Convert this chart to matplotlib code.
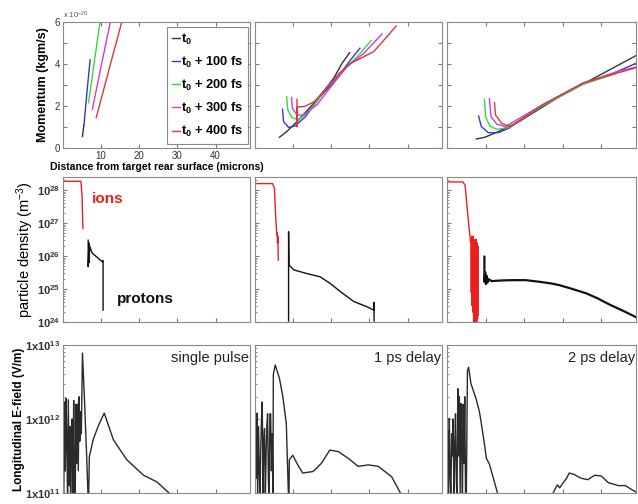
import numpy as np
import matplotlib
matplotlib.use('Agg')
import matplotlib.pyplot as plt
from matplotlib.ticker import LogLocator, NullFormatter

plt.rcParams['font.family'] = ['Liberation Sans', 'DejaVu Sans']
plt.rcParams['mathtext.fontset'] = 'custom'
plt.rcParams['mathtext.rm'] = 'Liberation Sans'
plt.rcParams['mathtext.bf'] = 'Liberation Sans:bold'
plt.rcParams['mathtext.it'] = 'Liberation Sans:italic'

W, H = 638, 504

# ---- top row : momentum (units of 1e-20 kg m/s) vs distance (microns)
labels = ['t0', 't0 + 100 fs', 't0 + 200 fs', 't0 + 300 fs', 't0 + 400 fs']
colors = ['#333333', '#3838c8', '#38d838', '#d838d8', '#d83838']

mom_a_x = [[5.1, 5.3, 5.5],
           [5.5, 6.3, 7.1],
           [6.7, 8.2, 9.7],
           [7.7, 10.0, 12.4],
           [8.7, 10.4, 12.0, 15.4]]
mom_a_y = [[0.55, 0.85, 1.1],
           [1.1, 2.7, 4.2],
           [2.16, 4.1, 6.0],
           [1.85, 3.9, 6.0],
           [1.45, 2.6, 3.7, 6.0]]

mom_b_x = [[6.4, 8.3, 11.0, 16.2, 20.6, 22.8, 24.8],
           [7.2, 7.5, 8.8, 10.5, 13.2, 17.1, 21.5, 25.0, 27.5],
           [8.3, 8.6, 9.6, 11.4, 14.5, 18.9, 23.2, 26.8, 30.4],
           [9.6, 9.8, 11.0, 12.7, 16.2, 20.6, 24.1, 28.5, 33.3],
           [11.0, 11.0, 11.1, 13.0, 15.5, 18.5, 22.0, 25.0, 28.0, 31.1, 33.8, 37.0]]
mom_b_y = [[0.51, 0.78, 1.25, 2.29, 3.32, 4.03, 4.54],
           [1.84, 1.25, 0.98, 1.05, 1.49, 2.44, 3.32, 4.19, 4.75],
           [2.44, 1.81, 1.46, 1.33, 1.81, 2.92, 3.71, 4.35, 5.11],
           [2.41, 1.89, 1.57, 1.57, 2.05, 3.08, 3.87, 4.51, 5.43],
           [2.32, 1.0, 1.95, 1.98, 2.2, 2.8, 3.55, 4.03, 4.3, 4.59, 5.14, 5.81]]

mom_c_x = [[7.6, 9.8, 13.3, 18.6, 29.1, 39.7, 49.3],
           [8.2, 8.9, 10.7, 13.3, 16.0, 24.7, 35.3, 43.2, 49.3],
           [9.7, 10.0, 11.1, 12.9, 16.0, 24.7, 35.3, 44.0],
           [11.0, 11.4, 12.9, 15.1, 24.7, 35.3, 44.0, 49.3],
           [12.3, 12.6, 14.2, 16.4, 24.7, 35.3, 44.0, 49.3]]
mom_c_y = [[0.43, 0.51, 0.78, 1.25, 2.44, 3.48, 4.43],
           [1.52, 1.02, 0.73, 0.73, 0.94, 2.0, 3.08, 3.56, 4.06],
           [2.32, 1.49, 1.05, 0.89, 0.98, 2.0, 3.03, 3.56],
           [2.35, 1.49, 1.14, 1.02, 2.05, 3.08, 3.63, 3.87],
           [2.16, 1.57, 1.17, 1.02, 2.05, 3.10, 3.56, 3.84]]

# ---- middle row : particle density, log10(m^-3)
ion_a_x = [0.0, 0.05, 4.7, 5.0, 5.2]
ion_a_lg = [28.4, 28.27, 28.27, 27.8, 26.84]
pro_a_x = [6.6, 6.6, 6.8, 6.8, 7.0, 7.5, 8.0, 8.8, 9.5, 10.4, 10.5, 10.5]
pro_a_lg = [26.48, 25.68, 26.4, 25.8, 26.3, 26.13, 26.05, 25.98, 25.9, 25.83, 25.86, 24.36]

ion_b_x = [0.0, 0.0, 0.1, 4.6, 5.1, 5.4, 5.7, 5.8, 5.9, 6.0, 6.1]
ion_b_lg = [27.55, 28.4, 28.2, 28.2, 28.05, 27.24, 26.64, 26.7, 26.4, 26.6, 25.88]
pro_b_x = [8.8, 8.8, 8.9, 10.2, 13.6, 17.1, 19.7, 22.4, 25.9, 29.4, 31.1, 31.2, 31.2]
pro_b_lg = [24.03, 26.74, 25.73, 25.58, 25.47, 25.37, 25.17, 24.92, 24.62, 24.46, 24.36, 24.6, 24.03]

ion_c_x = [0.0, 0.0, 0.1, 4.1, 4.7, 5.4, 6.1, 6.2, 6.3, 6.4, 6.5, 6.6, 6.7, 6.8, 6.9,
           7.0, 7.1, 7.2, 7.3, 7.4, 7.5, 7.6, 7.7, 7.8, 7.9, 8.0, 8.1]
ion_c_lg = [27.8, 28.4, 28.25, 28.25, 28.15, 27.24, 26.43, 26.5, 24.9, 26.6, 24.5, 26.5, 24.3,
            26.6, 23.9, 26.5, 23.9, 26.5, 23.9, 26.4, 23.9, 26.5, 23.9, 26.4, 24.1, 26.3, 24.2]
pro_c_x = [9.7, 9.7, 9.9, 10.1, 10.3, 10.5, 10.8, 11.6, 14.0, 17.0, 20.4, 24.0, 27.0, 29.1,
           32.0, 36.1, 39.0, 42.3, 46.0, 50.0]
pro_c_lg = [25.98, 25.22, 25.5, 25.15, 25.4, 25.2, 25.3, 25.24, 25.26, 25.27, 25.27, 25.22,
            25.17, 25.12, 25.02, 24.87, 24.72, 24.52, 24.32, 24.09]

# ---- bottom row : longitudinal E-field, log10(V/m)
ef_a_x = [0.0, 0.2, 0.4, 0.6, 0.8, 1.0, 1.2, 1.4, 1.6, 1.8, 2.0, 2.2, 2.4, 2.6, 2.8, 3.0,
          3.2, 3.4, 3.6, 3.8, 4.0, 4.2, 4.4, 4.6, 4.8, 5.1, 5.6, 6.2, 6.6, 6.7, 6.9, 7.9,
          9.2, 10.8, 13.2, 16.7, 21.1, 24.6, 28.2]
ef_a_lg = [12.2, 10.9, 12.23, 11.3, 12.28, 11.7, 10.9, 12.26, 11.1, 11.9, 10.9, 11.5, 12.0,
           10.9, 12.25, 11.2, 10.9, 12.2, 11.4, 12.2, 11.3, 12.3, 11.7, 12.1, 11.8, 12.89,
           12.3, 11.5, 10.9, 10.9, 11.49, 11.72, 11.9, 12.08, 11.72, 11.45, 11.24, 11.15, 10.98]

ef_b_x = [0.0, 0.15, 0.3, 0.5, 0.7, 0.9, 1.1, 1.3, 1.5, 1.7, 1.9, 2.1, 2.3, 2.5, 2.7, 2.9,
          3.1, 3.3, 3.5, 3.7, 3.9, 4.1, 4.3, 4.5, 4.7, 4.8, 5.3, 6.4, 7.3, 8.2, 8.8, 8.9,
          9.0, 9.9, 11.2, 12.5, 15.2, 17.4, 19.6, 21.8, 24.4, 27.0, 29.7, 32.3, 35.8, 38.3]
ef_b_lg = [11.9, 12.05, 11.2, 12.08, 10.9, 11.9, 11.4, 10.9, 11.6, 12.0, 12.23, 11.0, 11.7,
           11.87, 10.9, 11.5, 11.9, 12.07, 11.2, 10.9, 12.07, 12.07, 11.3, 11.8, 10.9, 12.6,
           12.73, 12.55, 12.3, 11.94, 10.9, 10.9, 11.45, 11.51, 11.38, 11.27, 11.29, 11.4,
           11.58, 11.56, 11.47, 11.36, 11.38, 11.36, 11.22, 10.98]

ef_c_x = [0.0, 0.2, 0.4, 0.6, 0.8, 1.0, 1.2, 1.4, 1.6, 1.8, 2.0, 2.2, 2.4, 2.6, 2.8, 3.0,
          3.2, 3.4, 3.6, 3.8, 4.0, 4.2, 4.4, 4.6, 4.8, 5.0, 5.3, 5.6, 6.2, 7.5, 8.4, 8.9,
          9.6, 10.2, 11.0, 12.4, 13.2]
ef_c_lg = [11.6, 11.85, 10.9, 12.01, 11.3, 10.9, 11.8, 11.5, 12.0, 10.9, 11.6, 12.07, 11.2,
           10.9, 12.41, 11.5, 12.3, 11.0, 12.21, 11.7, 10.9, 12.2, 11.4, 12.3, 11.0, 10.9,
           12.65, 12.7, 12.48, 12.28, 12.1, 11.94, 11.7, 11.47, 11.39, 11.13, 10.98]
ef_c2_x = [27.3, 28.6, 29.2, 30.3, 31.0, 31.7, 33.0, 34.7, 36.5, 38.3, 40.0, 41.8, 44.4,
           46.2, 48.4, 49.5]
ef_c2_lg = [10.98, 11.11, 11.07, 11.15, 11.2, 11.27, 11.25, 11.2, 11.18, 11.24, 11.23, 11.14,
            11.1, 11.1, 11.03, 11.0]

panel_notes = ['single pulse', '1 ps delay', '2 ps delay']


def rect(x0, y0, x1, y1):
    return [x0 / W, 1 - y1 / H, (x1 - x0) / W, (y1 - y0) / H]


def style(ax, box=False):
    for s in ax.spines.values():
        s.set_color('#8a8a8a')
        s.set_linewidth(0.8)
    ax.tick_params(which='both', direction='in', color='#777777', labelsize=7,
                   labelcolor='#333333', top=box, right=box, pad=2)
    ax.tick_params(which='major', length=3)
    ax.tick_params(which='minor', length=1.5)


fig = plt.figure(figsize=(W / 100, H / 100), dpi=100)
cols = [(63, 250), (255, 442), (447, 636)]

# top row
for i, (mx, my) in enumerate([(mom_a_x, mom_a_y), (mom_b_x, mom_b_y), (mom_c_x, mom_c_y)]):
    ax = fig.add_axes(rect(cols[i][0], 22, cols[i][1], 148))
    for k in range(5):
        ax.plot(mx[k], my[k], color=colors[k], lw=1.0,
                label=r'$\mathbf{t_0}$' + labels[k][2:])
    ax.set_xlim(0, 49)
    ax.set_ylim(0, 6)
    ax.set_xticks([10, 20, 30, 40])
    ax.set_yticks([0, 1, 2, 3, 4, 5, 6])
    style(ax, box=True)
    if i == 0:
        ax.set_yticklabels(['0', '', '2', '', '4', '', '6'])
        ax.set_ylabel('Momentum (kgm/s)', fontsize=9, fontweight='bold', labelpad=4)
        ax.set_xlabel('Distance from target rear surface (microns)', fontsize=7.5,
                      fontweight='bold', labelpad=1)
        ax.text(0.0, 1.01, r'x 10$^{-20}$', transform=ax.transAxes, fontsize=5.5,
                color='#555555', ha='left', va='bottom')
        leg = ax.legend(loc='upper right', bbox_to_anchor=(0.995, 0.97),
                        prop={'weight': 'bold', 'size': 9.3}, handlelength=0.6,
                        handletextpad=0.1, labelspacing=0.62, borderpad=0.35,
                        borderaxespad=0.1, fancybox=False, framealpha=1)
        leg.get_frame().set_edgecolor('#8a8a8a')
        leg.get_frame().set_linewidth(0.8)
    else:
        ax.set_xticklabels([])
        ax.set_yticklabels([])

# middle row
mid = [(ion_a_x, ion_a_lg, pro_a_x, pro_a_lg),
       (ion_b_x, ion_b_lg, pro_b_x, pro_b_lg),
       (ion_c_x, ion_c_lg, pro_c_x, pro_c_lg)]
for i, (ix, il, px, pl) in enumerate(mid):
    ax = fig.add_axes(rect(cols[i][0], 177, cols[i][1], 322))
    ax.plot(ix, np.power(10.0, il), color='#e82020', lw=1.0)
    ax.plot(px, np.power(10.0, pl), color='#111111', lw=1.6 if i == 2 else 1.0)
    ax.set_yscale('log')
    ax.set_xlim(0, 49)
    ax.set_ylim(1e24, 10 ** 28.4)
    ax.set_xticks([0, 10, 20, 30, 40])
    ax.set_xticklabels([])
    ax.yaxis.set_major_locator(LogLocator(base=10, numticks=10))
    ax.yaxis.set_minor_locator(LogLocator(base=10, subs=np.arange(2, 10), numticks=10))
    ax.yaxis.set_minor_formatter(NullFormatter())
    style(ax)
    if i == 0:
        ax.set_yticks([1e24, 1e25, 1e26, 1e27, 1e28])
        ax.set_yticklabels([r'$\mathbf{10^{%d}}$' % e for e in (24, 25, 26, 27, 28)],
                           fontsize=8)
        ax.set_ylabel(r'particle density (m$^{-3}$)', fontsize=10.5, labelpad=1)
        ax.text(0.155, 0.85, 'ions', transform=ax.transAxes, color='#e82020',
                fontsize=11, fontweight='bold', ha='left', va='center')
        ax.text(0.29, 0.16, 'protons', transform=ax.transAxes, color='#111111',
                fontsize=11, fontweight='bold', ha='left', va='center')
    else:
        ax.set_yticklabels([])

# bottom row
bot = [[(ef_a_x, ef_a_lg)], [(ef_b_x, ef_b_lg)], [(ef_c_x, ef_c_lg), (ef_c2_x, ef_c2_lg)]]
for i, series in enumerate(bot):
    ax = fig.add_axes(rect(cols[i][0], 345, cols[i][1], 493))
    for sx, sl in series:
        ax.plot(sx, np.power(10.0, sl), color='#2a2a2a', lw=1.0)
    ax.set_yscale('log')
    ax.set_xlim(0, 49)
    ax.set_ylim(1e11, 1e13)
    ax.set_xticks([0, 10, 20, 30, 40])
    ax.set_xticklabels([])
    ax.yaxis.set_minor_locator(LogLocator(base=10, subs=np.arange(2, 10), numticks=10))
    ax.yaxis.set_minor_formatter(NullFormatter())
    style(ax)
    ax.set_yticks([1e11, 1e12, 1e13])
    if i == 0:
        ax.set_yticklabels([r'$\mathbf{1x10^{%d}}$' % e for e in (11, 12, 13)], fontsize=8)
        ax.set_ylabel('Longitudinal E-field (V/m)', fontsize=8.5, fontweight='bold',
                      labelpad=0)
    else:
        ax.set_yticklabels([])
    ax.text(0.995, 0.91, panel_notes[i], transform=ax.transAxes, fontsize=10.5,
            color='#222222', ha='right', va='center')

fig.savefig('out.png', dpi=100)
